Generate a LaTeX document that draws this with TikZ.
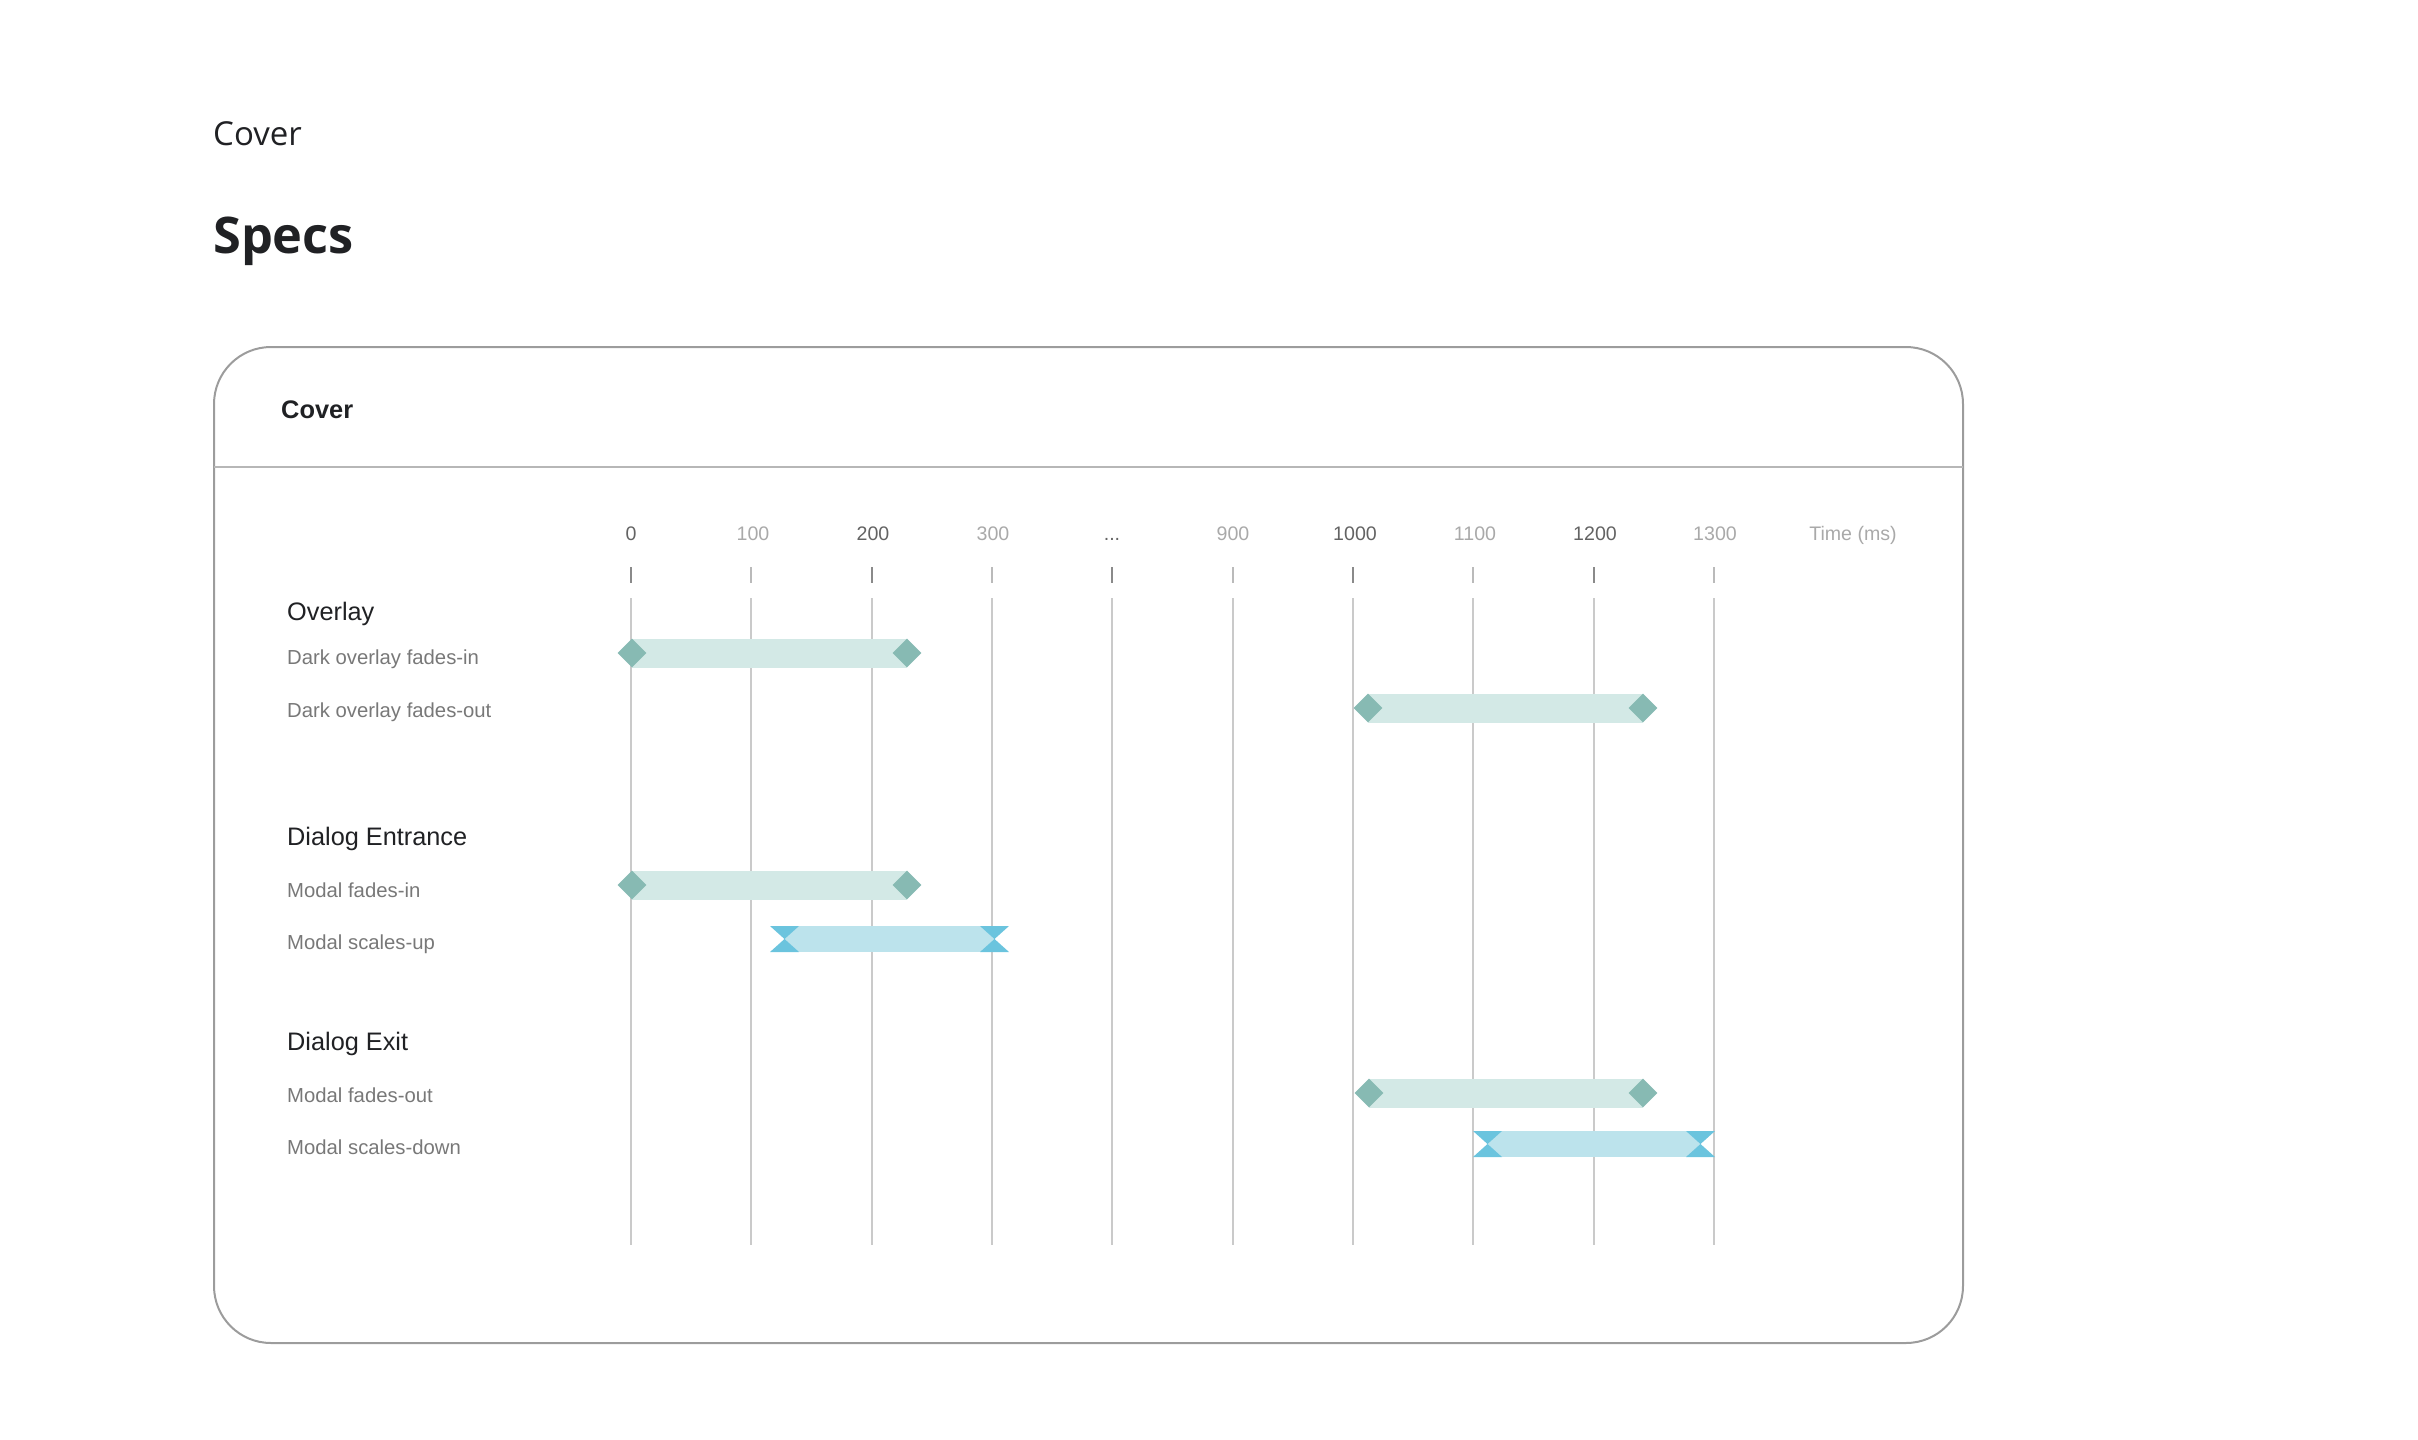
\documentclass[tikz,border=0pt]{standalone}
\usepackage{fontspec}
\setmainfont{Liberation Sans}
\newfontfamily\titlefont{Open Sans}
\usepackage{tikz}
\usetikzlibrary{shapes.geometric}

\definecolor{ink}{HTML}{202124}
\definecolor{rowgray}{HTML}{787878}
\definecolor{majgray}{HTML}{636363}
\definecolor{mingray}{HTML}{A9A9A9}
\definecolor{gridgray}{HTML}{CACACA}
\definecolor{cardgray}{HTML}{9C9C9C}
\definecolor{sepgray}{HTML}{B7B7B7}
\definecolor{tealbar}{HTML}{D3E9E6}
\definecolor{tealkey}{HTML}{87BAB3}
\definecolor{bluebar}{HTML}{BCE3EC}
\definecolor{bluekey}{HTML}{6BC4DE}

\tikzset{hourglass/.pic={
    \fill[bluekey] (-14.5,-13) -- (14.5,-13) -- (0,0) -- cycle;
    \fill[bluekey] (-14.5,13) -- (14.5,13) -- (0,0) -- cycle;}}

\begin{document}
\begin{tikzpicture}
        [x=1pt, y=-1pt,
        pstyle/.style={anchor=base west, inner sep=0, text=ink},
        hstyle/.style={anchor=base west, inner sep=0, text=ink, font=\fontsize{25.3}{30}\selectfont},
        rstyle/.style={anchor=base west, inner sep=0, text=rowgray, font=\fontsize{20.3}{24}\selectfont},
        majstyle/.style={anchor=base, inner sep=0, text=majgray, font=\fontsize{19.6}{23}\selectfont},
        minstyle/.style={anchor=base, inner sep=0, text=mingray, font=\fontsize{19.6}{23}\selectfont},
        gstyle/.style={draw=gridgray, line width=2},
        majtick/.style={draw=majgray!75, line width=2},
        mintick/.style={draw=mingray!80, line width=2},
        tbar/.style={draw=tealbar, line width=29},
        bbar/.style={draw=bluebar, line width=26},
        kstyle/.style={diamond, fill=tealkey, inner sep=0, minimum width=29, minimum height=29}]

        \useasboundingbox (0,0) rectangle (2418,1440);

        % page heading
        \node[pstyle, font=\titlefont\fontsize{33}{40}\selectfont] (page) at (213,145) {Cover};
        \node[pstyle, font=\titlefont\bfseries\fontsize{50.5}{60}\selectfont] (specs) at (213,253) {Specs};

        % card
        \draw[cardgray, line width=2, rounded corners=57] (214,347) rectangle (1963,1343);
        \draw[sepgray, line width=2.5] (214,467) -- (1963,467);
        \node[pstyle, font=\bfseries\fontsize{25.4}{30}\selectfont] (card) at (281,418) {Cover};

        % time axis
        \node[majstyle] (l0)    at (631,540)  {0};
        \node[minstyle] (l100)  at (753,540)  {100};
        \node[majstyle] (l200)  at (873,540)  {200};
        \node[minstyle] (l300)  at (993,540)  {300};
        \node[majstyle] (ldots) at (1112,540) {...};
        \node[minstyle] (l900)  at (1233,540) {900};
        \node[majstyle] (l1000) at (1355,540) {1000};
        \node[minstyle] (l1100) at (1475,540) {1100};
        \node[majstyle] (l1200) at (1595,540) {1200};
        \node[minstyle] (l1300) at (1715,540) {1300};
        \node[minstyle] (unit)  at (1853,540) {Time (ms)};

        \draw[majtick] (631,567) -- (631,583);
        \draw[mintick] (751,567) -- (751,583);
        \draw[majtick] (872,567) -- (872,583);
        \draw[mintick] (992,567) -- (992,583);
        \draw[majtick] (1112,567) -- (1112,583);
        \draw[mintick] (1233,567) -- (1233,583);
        \draw[majtick] (1353,567) -- (1353,583);
        \draw[mintick] (1473,567) -- (1473,583);
        \draw[majtick] (1594,567) -- (1594,583);
        \draw[mintick] (1714,567) -- (1714,583);

        \draw[gstyle] (631,598) -- (631,1245);
        \draw[gstyle] (751,598) -- (751,1245);
        \draw[gstyle] (872,598) -- (872,1245);
        \draw[gstyle] (992,598) -- (992,1245);
        \draw[gstyle] (1112,598) -- (1112,1245);
        \draw[gstyle] (1233,598) -- (1233,1245);
        \draw[gstyle] (1353,598) -- (1353,1245);
        \draw[gstyle] (1473,598) -- (1473,1245);
        \draw[gstyle] (1594,598) -- (1594,1245);
        \draw[gstyle] (1714,598) -- (1714,1245);

        % row labels
        \node[hstyle] (overlay) at (287,620)  {Overlay};
        \node[rstyle] (ovin)    at (287,664)  {Dark overlay fades-in};
        \node[rstyle] (ovout)   at (287,717)  {Dark overlay fades-out};
        \node[hstyle] (entr)    at (287,845)  {Dialog Entrance};
        \node[rstyle] (mdin)    at (287,897)  {Modal fades-in};
        \node[rstyle] (mdup)    at (287,949)  {Modal scales-up};
        \node[hstyle] (exit)    at (287,1050) {Dialog Exit};
        \node[rstyle] (mdout)   at (287,1102) {Modal fades-out};
        \node[rstyle] (mddown)  at (287,1154) {Modal scales-down};

        % bars
        \coordinate (ovin-a)   at (632,653);
        \coordinate (ovin-b)   at (907,653);
        \coordinate (ovout-a)  at (1368,708);
        \coordinate (ovout-b)  at (1643,708);
        \coordinate (mdin-a)   at (632,885);
        \coordinate (mdin-b)   at (907,885);
        \coordinate (mdup-a)   at (784.5,939);
        \coordinate (mdup-b)   at (994.5,939);
        \coordinate (mdout-a)  at (1369,1093);
        \coordinate (mdout-b)  at (1643,1093);
        \coordinate (mddown-a) at (1487.5,1144);
        \coordinate (mddown-b) at (1700.5,1144);

        \draw[tbar] (ovin-a) -- (ovin-b);
        \draw[tbar] (ovout-a) -- (ovout-b);
        \draw[tbar] (mdin-a) -- (mdin-b);
        \draw[bbar] (mdup-a) -- (mdup-b);
        \draw[tbar] (mdout-a) -- (mdout-b);
        \draw[bbar] (mddown-a) -- (mddown-b);

        \node[kstyle] (k1) at (ovin-a) {};
        \node[kstyle] (k2) at (ovin-b) {};
        \node[kstyle] (k3) at (ovout-a) {};
        \node[kstyle] (k4) at (ovout-b) {};
        \node[kstyle] (k5) at (mdin-a) {};
        \node[kstyle] (k6) at (mdin-b) {};
        \node[kstyle] (k7) at (mdout-a) {};
        \node[kstyle] (k8) at (mdout-b) {};
        \pic at (mdup-a) {hourglass};
        \pic at (mdup-b) {hourglass};
        \pic at (mddown-a) {hourglass};
        \pic at (mddown-b) {hourglass};
    \end{tikzpicture}
\end{document}
